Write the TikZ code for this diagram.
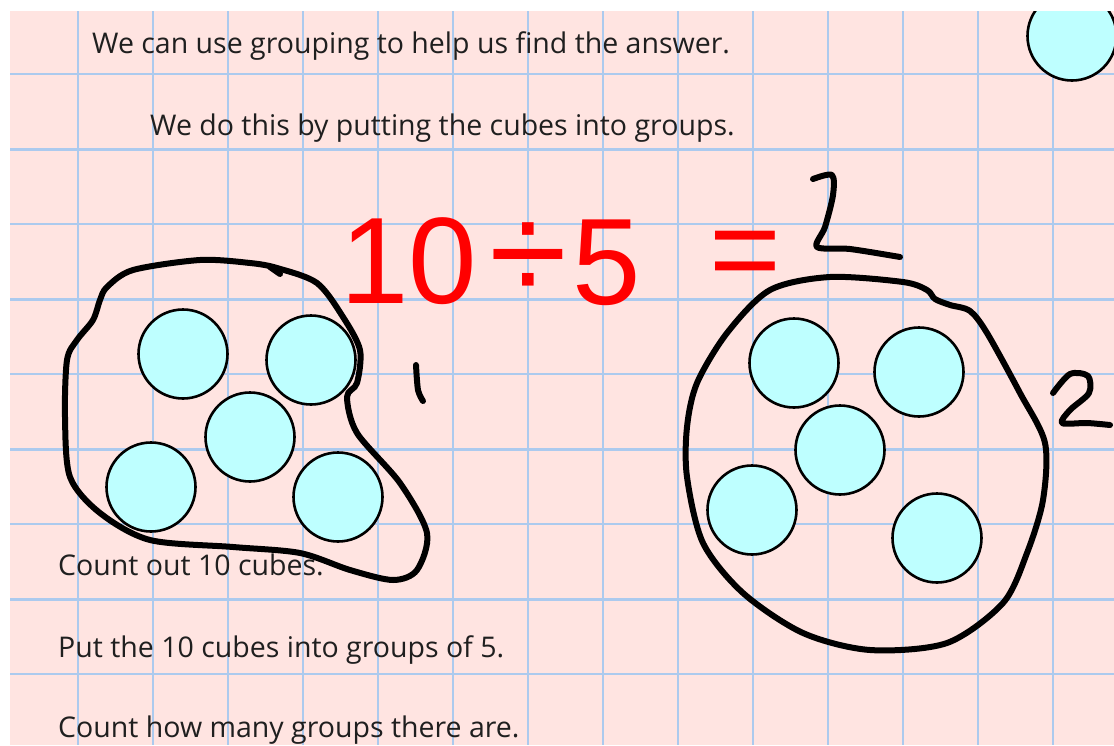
\documentclass[tikz,border=0pt]{standalone}
\usepackage{fontspec}
\setmainfont{Open Sans}
\newfontfamily\sumfont{Liberation Sans}
\definecolor{paper}{RGB}{255,228,225}
\definecolor{gridblue}{RGB}{172,202,238}
\definecolor{cubefill}{RGB}{190,255,255}
\begin{document}
\begin{tikzpicture}[x=1pt,y=-1pt,
  cube/.style={circle,draw=black,line width=2.6pt,fill=cubefill,minimum size=89pt,inner sep=0pt},
  ink/.style={line width=6pt,line cap=round,line join=round},
  words/.style={anchor=base west,inner sep=0pt,text=black!88,font=\fontsize{28.5}{32}\selectfont},
  sum/.style={inner sep=0pt,text=red,font=\sumfont\fontsize{123}{130}\selectfont}]
\useasboundingbox (0,0) rectangle (1114,745);
\begin{scope}
\clip (10,11) rectangle (1114,745);
\fill[paper] (10,11) rectangle (1114,745);
\foreach \x in {78,153,...,1053} \draw[gridblue,line width=2pt] (\x,11) -- (\x,745);
\foreach \y in {74,149,...,674} \draw[gridblue,line width=2pt] (10,\y) -- (1114,\y);
\foreach \y in {149,299,...,599} \draw[gridblue,line width=3pt] (10,\y) -- (1114,\y);

\node[cube] (corner) at (1072,36) {};

\node[words] (line1) at (92,53) {We can use grouping to help us find the answer.};
\node[words] (line2) at (150,135) {We do this by putting the cubes into groups.};
\node[words] (line3) at (58,575) {Count out 10 cubes.};
\node[words] (line4) at (58,657) {Put the 10 cubes into groups of 5.};
\node[words] (line5) at (58,737) {Count how many groups there are.};

\node[sum] (ten) at (409,261) {10};
\node[sum,scale=1.15] (divide) at (528,262) {÷};
\node[sum] (five) at (607,263) {5};
\node[sum] (equals) at (745,261) {=};

\node[cube] (a1) at (183,354) {};
\node[cube] (a2) at (311,360) {};
\node[cube] (a3) at (250,437) {};
\node[cube] (a4) at (151,487) {};
\node[cube] (a5) at (338,497) {};

\node[cube] (b1) at (794,363) {};
\node[cube] (b2) at (919,372) {};
\node[cube] (b3) at (840,450) {};
\node[cube] (b4) at (752,510) {};
\node[cube] (b5) at (937,538) {};

\draw[ink] plot[smooth cycle] coordinates {(133,270) (200,260) (250,263) (277,268) (317,283)
  (343,317) (360,350) (357,383) (347,397) (357,433) (400,483) (427,533) (417,570) (393,580)
  (350,570) (300,553) (233,547) (150,540) (100,513) (70,477) (65,417) (67,360) (77,340)
  (93,320) (100,300) (107,287)};
\draw[ink] (270,267) -- (280,274);

\draw[ink] plot[smooth cycle] coordinates {(830,277) (903,282) (927,290) (935,299) (950,305)
  (970,311) (987,333) (1020,393) (1045,443) (1043,500) (1027,553) (1003,603) (947,643)
  (870,650) (803,633) (743,593) (703,543) (687,477) (687,427) (697,383) (727,333) (770,290)};

\draw[ink] plot[smooth] coordinates {(416,365) (418,390) (423,401)};
\draw[ink] plot[smooth] coordinates {(813,179) (832,175) (833,195) (825,227) (817,247)
  (850,249) (900,257)};
\draw[ink] plot[smooth] coordinates {(1053,393) (1070,374) (1088,376) (1089,393) (1070,410)
  (1062,423) (1087,423) (1110,425)};
\end{scope}
\end{tikzpicture}
\end{document}
